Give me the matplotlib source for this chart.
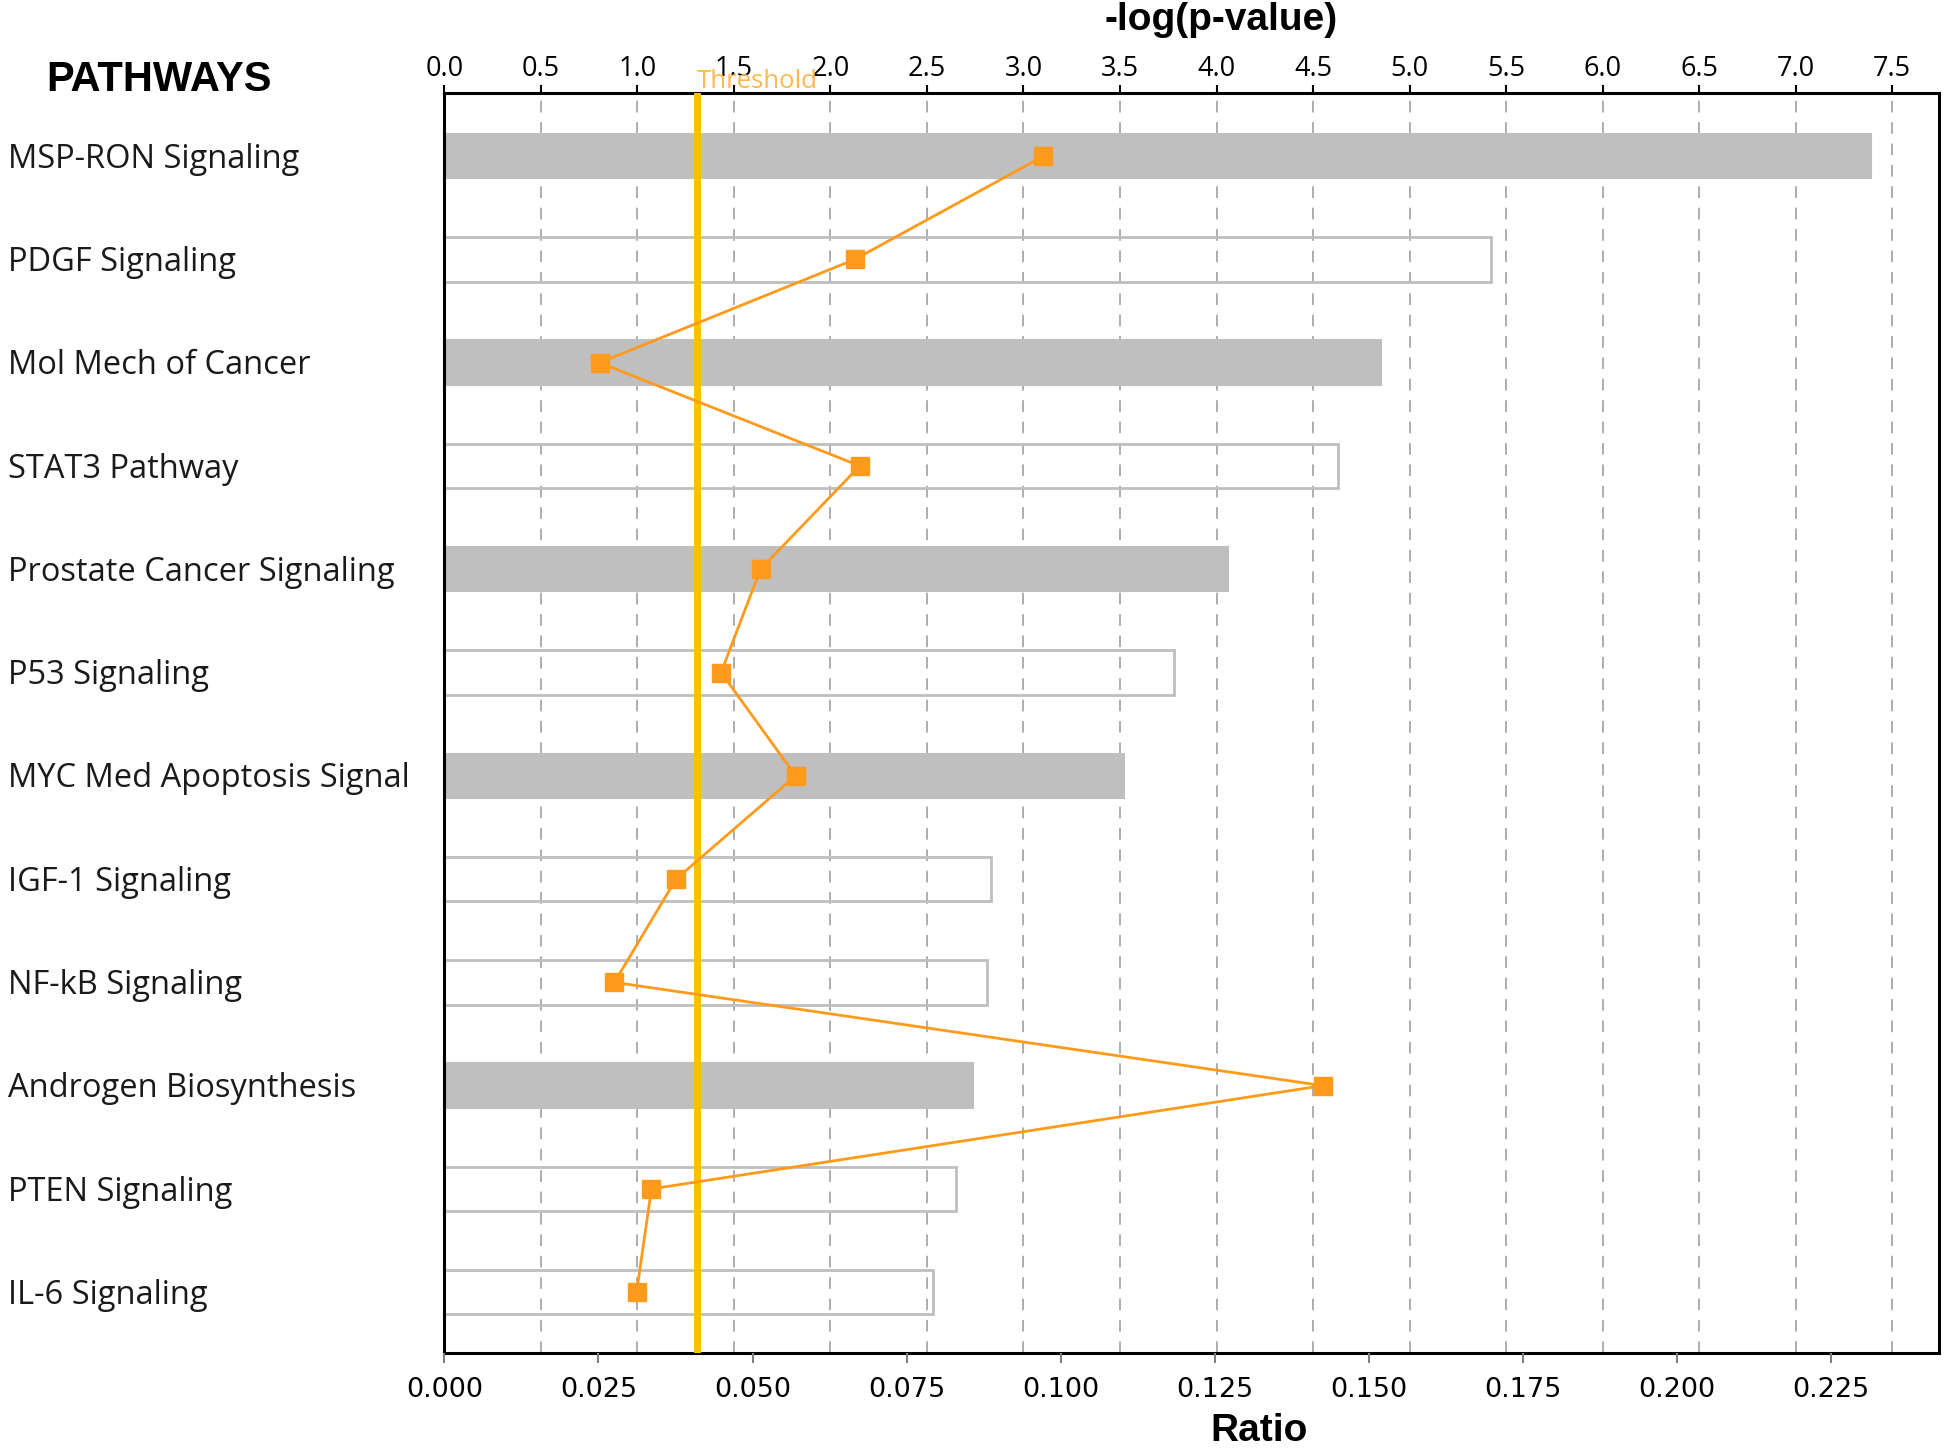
import matplotlib
matplotlib.use("Agg")
import matplotlib.pyplot as plt
import matplotlib.transforms as mtransforms
import numpy as np

# ---------------- data ----------------
pathways = [
    "MSP-RON Signaling", "PDGF Signaling", "Mol Mech of Cancer", "STAT3 Pathway",
    "Prostate Cancer Signaling", "P53 Signaling", "MYC Med Apoptosis Signal",
    "IGF-1 Signaling", "NF-kB Signaling", "Androgen Biosynthesis",
    "PTEN Signaling", "IL-6 Signaling",
]
neg_log_p = [7.39, 5.42, 4.85, 4.63, 4.06, 3.78, 3.52, 2.83, 2.81, 2.74, 2.65, 2.53]
ratio = [0.0972, 0.0666, 0.0252, 0.0674, 0.0513, 0.0449, 0.0570, 0.0376,
         0.0276, 0.1425, 0.0336, 0.0312]
bar_filled = [True, False, True, False, True, False, True, False, False, True, False, False]
threshold = 1.31
top_ticks = [0.0, 0.5, 1.0, 1.5, 2.0, 2.5, 3.0, 3.5, 4.0, 4.5, 5.0, 5.5, 6.0, 6.5, 7.0, 7.5]
bottom_ticks = [0.000, 0.025, 0.050, 0.075, 0.100, 0.125, 0.150, 0.175, 0.200, 0.225]

# ---------------- figure ----------------
fig = plt.figure(figsize=(19.46, 14.5), dpi=100)
ax = fig.add_axes([0.2283, 0.0668, 0.9962 - 0.2283, 0.9358 - 0.0668])
ax2 = ax.twiny()

GRAY = "#BFBFBF"
ORANGE = "#FF9A1A"
GOLD = "#FFC000"

y = np.arange(len(pathways))

# grid (top axis)
for t in top_ticks[1:]:
    ax.axvline(t, color="#ADADAD", lw=1.4, ls=(0, (6, 5)), zorder=0)

for yi, v, f in zip(y, neg_log_p, bar_filled):
    if f:
        ax.barh(yi, v, height=0.43, color=GRAY, edgecolor=GRAY, lw=1.5, zorder=2)
    else:
        ax.barh(yi, v, height=0.43, facecolor="none", edgecolor=GRAY, lw=2.0, zorder=2)

ax.axvline(threshold, color=GOLD, lw=5, zorder=3)

ax.set_xlim(0, 7.74)
ax.set_ylim(11.59, -0.61)
ax.set_xticks(top_ticks)
ax.set_xticklabels([f"{t:.1f}" for t in top_ticks], fontsize=19.5, family=["Open Sans", "DejaVu Sans"])
ax.xaxis.set_ticks_position("top")
ax.xaxis.set_label_position("top")
ax.tick_params(axis="x", which="both", direction="out", length=6, width=1.5, pad=1,
               top=True, bottom=False, labeltop=True, labelbottom=False)
ax.set_yticks([])
for s in ax.spines.values():
    s.set_linewidth(2.2)
    s.set_color("black")

ax.text(threshold, 0.999, "Threshold", transform=mtransforms.blended_transform_factory(ax.transData, ax.transAxes),
        ha="left", va="bottom", fontsize=18.5, color="#FFB850", family=["Open Sans", "DejaVu Sans"])

# ratio axis (bottom)
ax2.set_xlim(0, 0.2424)
ax2.set_ylim(11.59, -0.61)
ax2.set_xticks(bottom_ticks)
ax2.set_xticklabels([f"{t:.3f}" for t in bottom_ticks], fontsize=19.5,
                    family=["Liberation Sans Narrow", "DejaVu Sans"])
ax2.xaxis.set_ticks_position("bottom")
ax2.xaxis.set_label_position("bottom")
ax2.tick_params(axis="x", direction="out", length=7, width=1.5, color="#808080", pad=10,
                top=False, bottom=True, labeltop=False, labelbottom=True)
for s in ax2.spines.values():
    s.set_visible(False)
ax2.plot(ratio, y, color=ORANGE, lw=2, marker="s", markersize=13,
         markerfacecolor=ORANGE, markeredgecolor=ORANGE, zorder=5)

# pathway labels
trans = mtransforms.blended_transform_factory(fig.transFigure, ax.transData)
for yi, name in zip(y, pathways):
    fig.text(0.004, yi + 0.03, name, transform=trans, ha="left", va="center",
             fontsize=23.5, family=["Open Sans", "DejaVu Sans"], color="#1a1a1a")

fig.text(0.0817, 0.945, "PATHWAYS", ha="center", va="center", fontsize=30,
         fontweight="bold", family=["Liberation Sans", "DejaVu Sans"])
fig.text(0.6276, 0.986, "-log(p-value)", ha="center", va="center", fontsize=28,
         fontweight="bold", family=["Liberation Sans", "DejaVu Sans"])
fig.text(0.647, 0.013, "Ratio", ha="center", va="center", fontsize=28,
         fontweight="bold", family=["Liberation Sans", "DejaVu Sans"])

fig.savefig("out.png", dpi=100, facecolor="white")
